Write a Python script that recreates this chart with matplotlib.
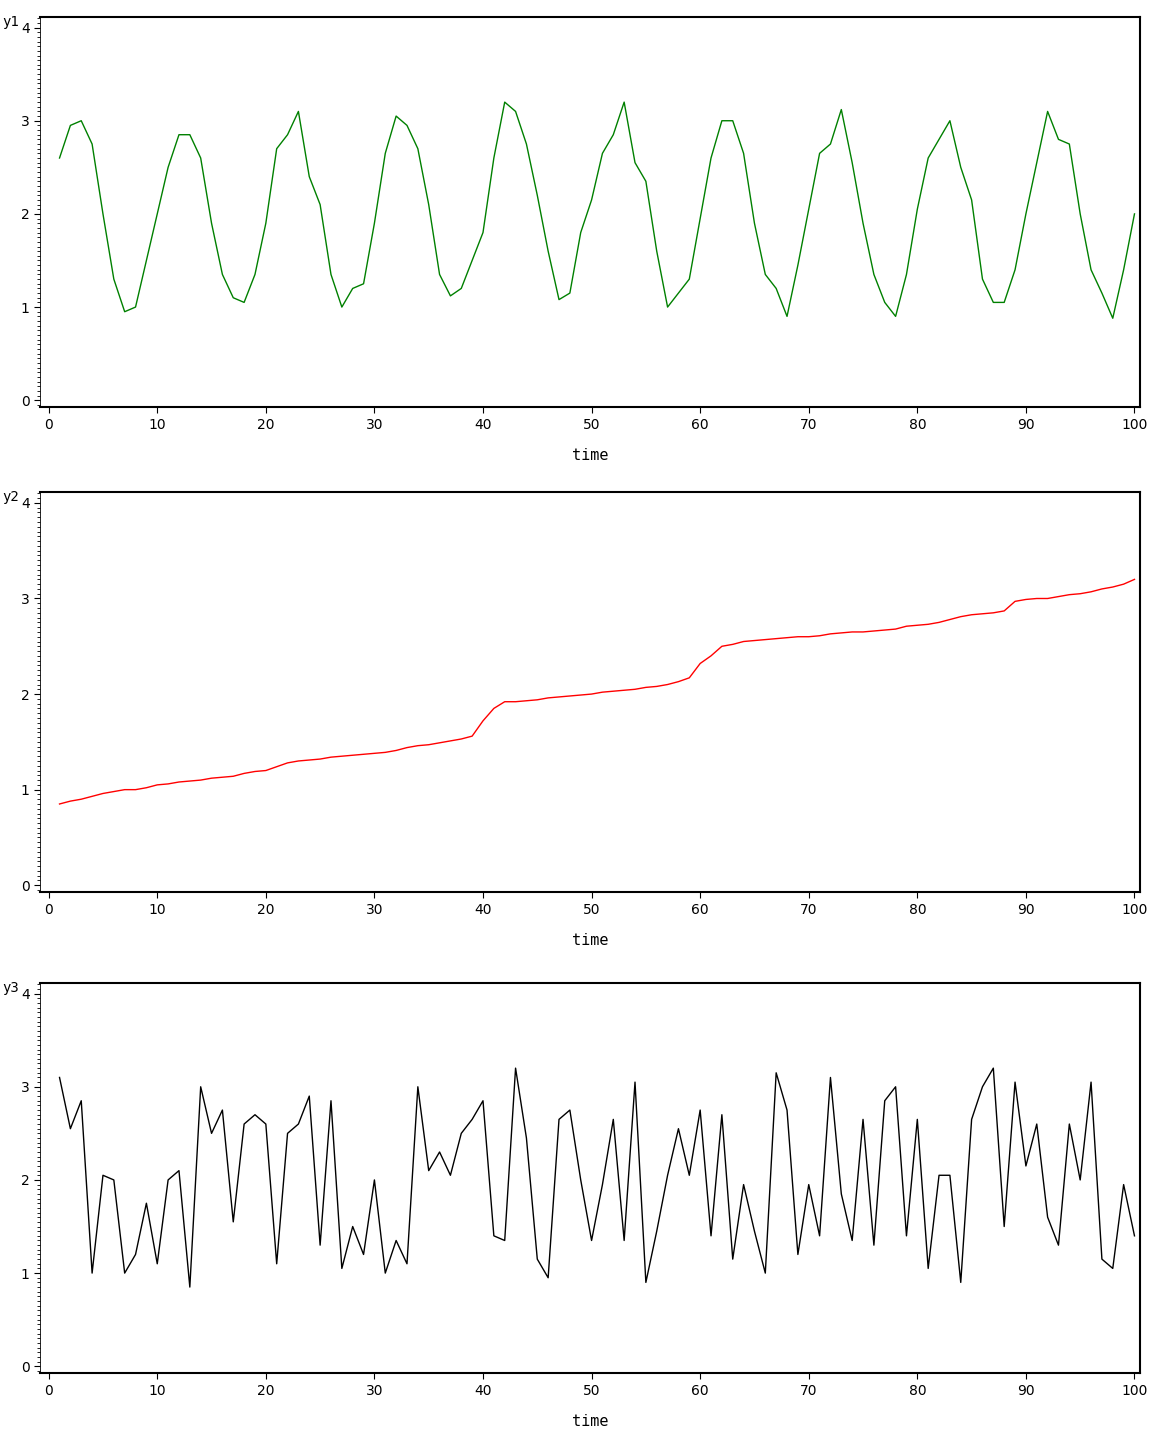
import numpy as np
import matplotlib
matplotlib.use('Agg')
import matplotlib.pyplot as plt
from matplotlib.ticker import MultipleLocator

time = np.arange(1, 101)

y1 = [2.6, 2.95, 3.0, 2.75, 2.0, 1.3, 0.95, 1.0, 1.5, 2.0,
      2.5, 2.85, 2.85, 2.6, 1.9, 1.35, 1.1, 1.05, 1.35, 1.9,
      2.7, 2.85, 3.1, 2.4, 2.1, 1.35, 1.0, 1.2, 1.25, 1.9,
      2.65, 3.05, 2.95, 2.7, 2.1, 1.35, 1.12, 1.2, 1.5, 1.8,
      2.6, 3.2, 3.1, 2.75, 2.2, 1.6, 1.08, 1.15, 1.8, 2.15,
      2.65, 2.85, 3.2, 2.55, 2.35, 1.6, 1.0, 1.15, 1.3, 1.95,
      2.6, 3.0, 3.0, 2.65, 1.9, 1.35, 1.2, 0.9, 1.45, 2.05,
      2.65, 2.75, 3.12, 2.55, 1.9, 1.35, 1.05, 0.9, 1.35, 2.05,
      2.6, 2.8, 3.0, 2.5, 2.15, 1.3, 1.05, 1.05, 1.4, 2.0,
      2.55, 3.1, 2.8, 2.75, 2.0, 1.4, 1.15, 0.88, 1.4, 2.0]

y2 = [0.85, 0.88, 0.9, 0.93, 0.96, 0.98, 1.0, 1.0, 1.02, 1.05,
      1.06, 1.08, 1.09, 1.1, 1.12, 1.13, 1.14, 1.17, 1.19, 1.2,
      1.24, 1.28, 1.3, 1.31, 1.32, 1.34, 1.35, 1.36, 1.37, 1.38,
      1.39, 1.41, 1.44, 1.46, 1.47, 1.49, 1.51, 1.53, 1.56, 1.72,
      1.85, 1.92, 1.92, 1.93, 1.94, 1.96, 1.97, 1.98, 1.99, 2.0,
      2.02, 2.03, 2.04, 2.05, 2.07, 2.08, 2.1, 2.13, 2.17, 2.32,
      2.4, 2.5, 2.52, 2.55, 2.56, 2.57, 2.58, 2.59, 2.6, 2.6,
      2.61, 2.63, 2.64, 2.65, 2.65, 2.66, 2.67, 2.68, 2.71, 2.72,
      2.73, 2.75, 2.78, 2.81, 2.83, 2.84, 2.85, 2.87, 2.97, 2.99,
      3.0, 3.0, 3.02, 3.04, 3.05, 3.07, 3.1, 3.12, 3.15, 3.2]

y3 = [3.1, 2.55, 2.85, 1.0, 2.05, 2.0, 1.0, 1.2, 1.75, 1.1,
      2.0, 2.1, 0.85, 3.0, 2.5, 2.75, 1.55, 2.6, 2.7, 2.6,
      1.1, 2.5, 2.6, 2.9, 1.3, 2.85, 1.05, 1.5, 1.2, 2.0,
      1.0, 1.35, 1.1, 3.0, 2.1, 2.3, 2.05, 2.5, 2.65, 2.85,
      1.4, 1.35, 3.2, 2.45, 1.15, 0.95, 2.65, 2.75, 2.0, 1.35,
      1.95, 2.65, 1.35, 3.05, 0.9, 1.45, 2.05, 2.55, 2.05, 2.75,
      1.4, 2.7, 1.15, 1.95, 1.45, 1.0, 3.15, 2.75, 1.2, 1.95,
      1.4, 3.1, 1.85, 1.35, 2.65, 1.3, 2.85, 3.0, 1.4, 2.65,
      1.05, 2.05, 2.05, 0.9, 2.65, 3.0, 3.2, 1.5, 3.05, 2.15,
      2.6, 1.6, 1.3, 2.6, 2.0, 3.05, 1.15, 1.05, 1.95, 1.4]

series = [('y1', y1, 'green'), ('y2', y2, 'red'), ('y3', y3, 'black')]
boxes = [(0.718, 0.988), (0.382, 0.659), (0.049, 0.319)]

fig = plt.figure(figsize=(11.59, 14.44), dpi=100)
for (name, vals, col), (b, t) in zip(series, boxes):
    ax = fig.add_axes([0.0345, b, 0.984 - 0.0345, t - b])
    ax.plot(time, vals, color=col, lw=1)
    ax.set_xlim(-0.8, 100.55)
    ax.set_ylim(-0.075, 4.11)
    ax.xaxis.set_major_locator(MultipleLocator(10))
    ax.yaxis.set_major_locator(MultipleLocator(1))
    ax.yaxis.set_minor_locator(MultipleLocator(0.05))
    ax.tick_params(labelsize=10, length=4, direction='out')
    ax.tick_params(axis='y', which='minor', length=2)
    for s in ['top', 'bottom', 'right']:
        ax.spines[s].set_linewidth(1.5)
    ax.spines['left'].set_linewidth(0.6)
    ax.set_xlabel('time', fontsize=11, family='monospace', labelpad=12)
    ax.text(-0.034, 1.005, name, transform=ax.transAxes, fontsize=10,
            ha='left', va='top', family='monospace')

fig.savefig('out.png', dpi=100)
